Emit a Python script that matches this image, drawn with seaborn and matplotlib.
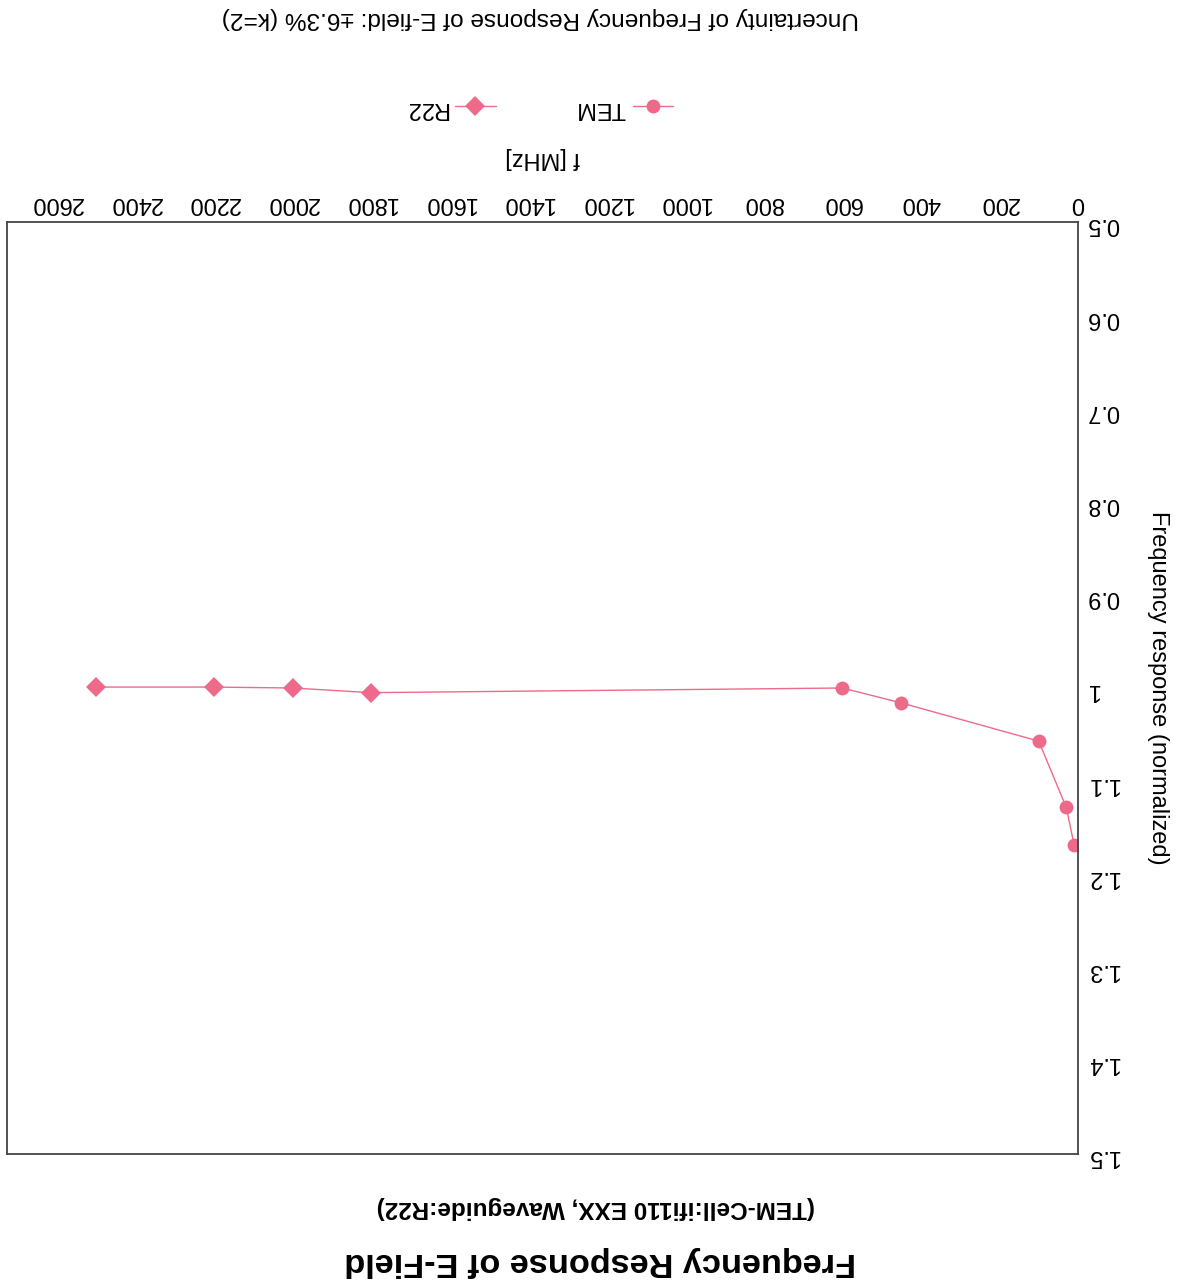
import numpy as np
import pandas as pd
import matplotlib
matplotlib.use('Agg')
import matplotlib.pyplot as plt
import seaborn as sns
from matplotlib.ticker import FuncFormatter
from matplotlib.lines import Line2D

# data ---------------------------------------------------------------
tem_f = [10, 30, 100, 450, 600]
tem_r = [1.168, 1.128, 1.057, 1.016, 1.000]
r22_f = [1800, 2000, 2200, 2500]
r22_r = [1.005, 1.000, 0.999, 0.999]
x_ticks = [0, 200, 400, 600, 800, 1000, 1200, 1400, 1600, 1800, 2000, 2200, 2400, 2600]
y_ticks = [0.5, 0.6, 0.7, 0.8, 0.9, 1.0, 1.1, 1.2, 1.3, 1.4, 1.5]

df = pd.concat([
    pd.DataFrame({'f': tem_f, 'r': tem_r, 'series': 'TEM'}),
    pd.DataFrame({'f': r22_f, 'r': r22_r, 'series': 'R22'}),
])

sns.set_style('white')
plt.rcParams['font.family'] = ['Liberation Sans', 'DejaVu Sans']
plt.rcParams['text.color'] = 'black'
plt.rcParams['axes.labelcolor'] = 'black'
plt.rcParams['xtick.color'] = 'black'
plt.rcParams['ytick.color'] = 'black'

pink = '#ee6a8a'
fig = plt.figure(figsize=(11.94, 12.88), dpi=100)
ax = fig.add_axes([7/1194, 1-1154/1288, (1078-7)/1194, (1154-222)/1288])

# the page was scanned upside down, so everything is drawn rotated 180 degrees
sns.lineplot(data=df, x='f', y='r', hue='series', style='series',
             markers={'TEM': 'o', 'R22': 'D'}, dashes=False,
             palette={'TEM': pink, 'R22': pink}, linewidth=1,
             markersize=10, markeredgewidth=0, ax=ax, legend=False)
ax.plot([tem_f[-1], r22_f[0]], [tem_r[-1], r22_r[0]], color=pink, lw=1)

ax.set_xlim(2727, 0)
ax.set_ylim(1.5, 0.5)
ax.set_xticks(x_ticks)
ax.set_yticks(y_ticks)
ax.yaxis.set_major_formatter(FuncFormatter(lambda v, p: '%g' % v))
ax.xaxis.tick_top()
ax.yaxis.tick_right()
ax.tick_params(axis='both', labelsize=17, length=0, pad=6)
for lab in ax.get_xticklabels() + ax.get_yticklabels():
    lab.set_rotation(180)
for s in ax.spines.values():
    s.set_color('#444444')
    s.set_linewidth(1.3)

ax.xaxis.set_label_position('top')
ax.yaxis.set_label_position('right')
ax.set_xlabel('f [MHz]', fontsize=17, rotation=180, labelpad=20)
ax.set_ylabel('Frequency response (normalized)', fontsize=17, rotation=270, labelpad=36)

h_r22 = Line2D([], [], color=pink, lw=1, marker='D', ms=10, mew=0)
h_tem = Line2D([], [], color=pink, lw=1, marker='o', ms=10, mew=0)
leg = fig.legend([h_r22, h_tem], ['R22', 'TEM'], ncol=2, markerfirst=False,
                 frameon=False, fontsize=17, loc='center', handlelength=1.7,
                 handletextpad=0.3, columnspacing=3.4,
                 bbox_to_anchor=(539/1194, 1-108/1288))
for t in leg.get_texts():
    t.set_rotation(180)

fig.text(540/1194, 1-18/1288, 'Uncertainty of Frequency Response of E-field: \u00b16.3% (k=2)',
         ha='center', va='center', fontsize=17.6, rotation=180)
fig.text(596/1194, 1-1208/1288, '(TEM-Cell:ifi110 EXX, Waveguide:R22)',
         ha='center', va='center', fontsize=17.5, fontweight='bold', rotation=180)
fig.text(600/1194, 1-1262/1288, 'Frequency Response of E-Field',
         ha='center', va='center', fontsize=24.7, fontweight='bold', rotation=180)

fig.savefig('out.png', dpi=100)
